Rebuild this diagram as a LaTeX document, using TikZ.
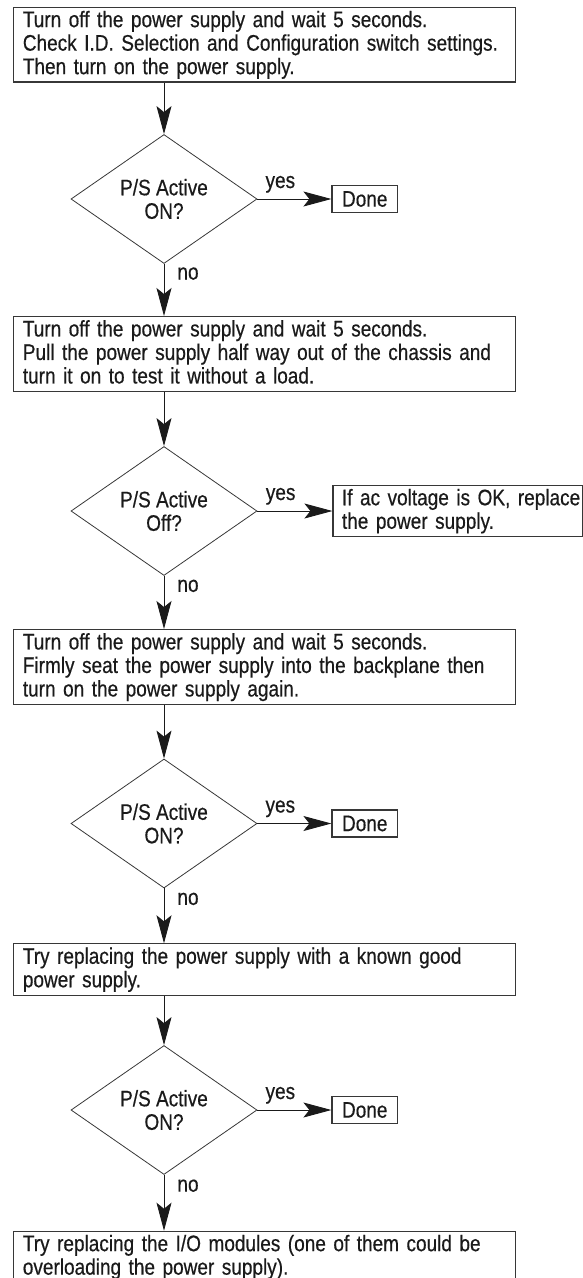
\documentclass[tikz,border=0pt]{standalone}
\usepackage{fontspec}
\setmainfont{Liberation Sans}[FakeStretch=0.845, FakeBold=0.5]
\usepackage{tikz}
\usetikzlibrary{arrows.meta, positioning, shapes.geometric}
\definecolor{ink}{RGB}{26,26,26}
\definecolor{rulegray}{RGB}{55,55,55}
\newcommand{\lastdp}{\rule[-4.5pt]{0pt}{4.5pt}}

\begin{document}
\begin{tikzpicture}[x = 1pt, y = -1pt,
    every node/.style={font=\fontsize{22.5}{23.5}\selectfont, text=ink},
    stepbox/.style={draw=rulegray, line width=1.1pt, anchor=north west, align=left,
        text width=483pt, inner xsep=9.6pt, inner ysep=3.2pt, text height=16.7pt,
        execute at begin node={\hyphenpenalty=10000}},
    decision/.style={diamond, draw=rulegray, line width=0.8pt, aspect=1.44,
        minimum width=186pt, minimum height=129pt, inner sep=0pt, align=center},
    donebox/.style={draw=rulegray, line width=1.1pt, minimum width=65.6pt,
        minimum height=27pt, inner sep=0pt},
    flow/.style={draw=ink, line width=0.9pt, -{Stealth[length=28pt, width=15pt, inset=6pt]}},
    yeslbl/.style={pos=.31, anchor=base, yshift=11pt, inner sep=0pt},
    nolbl/.style={pos=.3, anchor=base west, xshift=13pt, inner sep=0pt}]

    \useasboundingbox (0,0) rectangle (582,1278);

    % steps and checks
    \node[stepbox] (b1) at (12.7,6.7) {Turn off the power supply and wait 5 seconds.\\
        \mbox{Check I.D. Selection and Configuration switch settings.}\\
        Then turn on the power supply.\lastdp};
    \node[decision] (d1) at (164,199) {P/S Active\\ON?};
    \node[donebox, right=74pt of d1] (done1) {Done};

    \node[stepbox] (b2) at (12.7,316) {Turn off the power supply and wait 5 seconds.\\
        \mbox{Pull the power supply half way out of the chassis and}\\
        turn it on to test it without a load.\lastdp};
    \node[decision] (d2) at (164,511) {P/S Active\\Off?};
    \node[stepbox, anchor=west, text width=232pt, inner xsep=9pt, right=75pt of d2] (ac)
        {\mbox{If ac voltage is OK, replace}\\the power supply.\lastdp};

    \node[stepbox] (b3) at (12.7,629) {Turn off the power supply and wait 5 seconds.\\
        \mbox{Firmly seat the power supply into the backplane then}\\
        turn on the power supply again.\lastdp};
    \node[decision] (d3) at (164,823.5) {P/S Active\\ON?};
    \node[donebox, right=74pt of d3] (done3) {Done};

    \node[stepbox] (b4) at (12.7,943.3) {Try replacing the power supply with a known good\\
        power supply.\lastdp};
    \node[decision] (d4) at (164,1110) {P/S Active\\ON?};
    \node[donebox, right=74pt of d4] (done4) {Done};

    \node[stepbox] (b5) at (12.7,1230.7) {Try replacing the I/O modules (one of them could be\\
        overloading the power supply).\lastdp};

    % connectors
    \draw[flow] (d1 |- b1.south) -- (d1.north);
    \draw[flow] (d1.east) -- node[yeslbl] {yes} (done1.west);
    \draw[flow] (d1.south) -- node[nolbl] {no} (d1 |- b2.north);

    \draw[flow] (d2 |- b2.south) -- (d2.north);
    \draw[flow] (d2.east) -- node[yeslbl] {yes} (ac.west);
    \draw[flow] (d2.south) -- node[nolbl] {no} (d2 |- b3.north);

    \draw[flow] (d3 |- b3.south) -- (d3.north);
    \draw[flow] (d3.east) -- node[yeslbl] {yes} (done3.west);
    \draw[flow] (d3.south) -- node[nolbl] {no} (d3 |- b4.north);

    \draw[flow] (d4 |- b4.south) -- (d4.north);
    \draw[flow] (d4.east) -- node[yeslbl] {yes} (done4.west);
    \draw[flow] (d4.south) -- node[nolbl] {no} (d4 |- b5.north);
\end{tikzpicture}
\end{document}
